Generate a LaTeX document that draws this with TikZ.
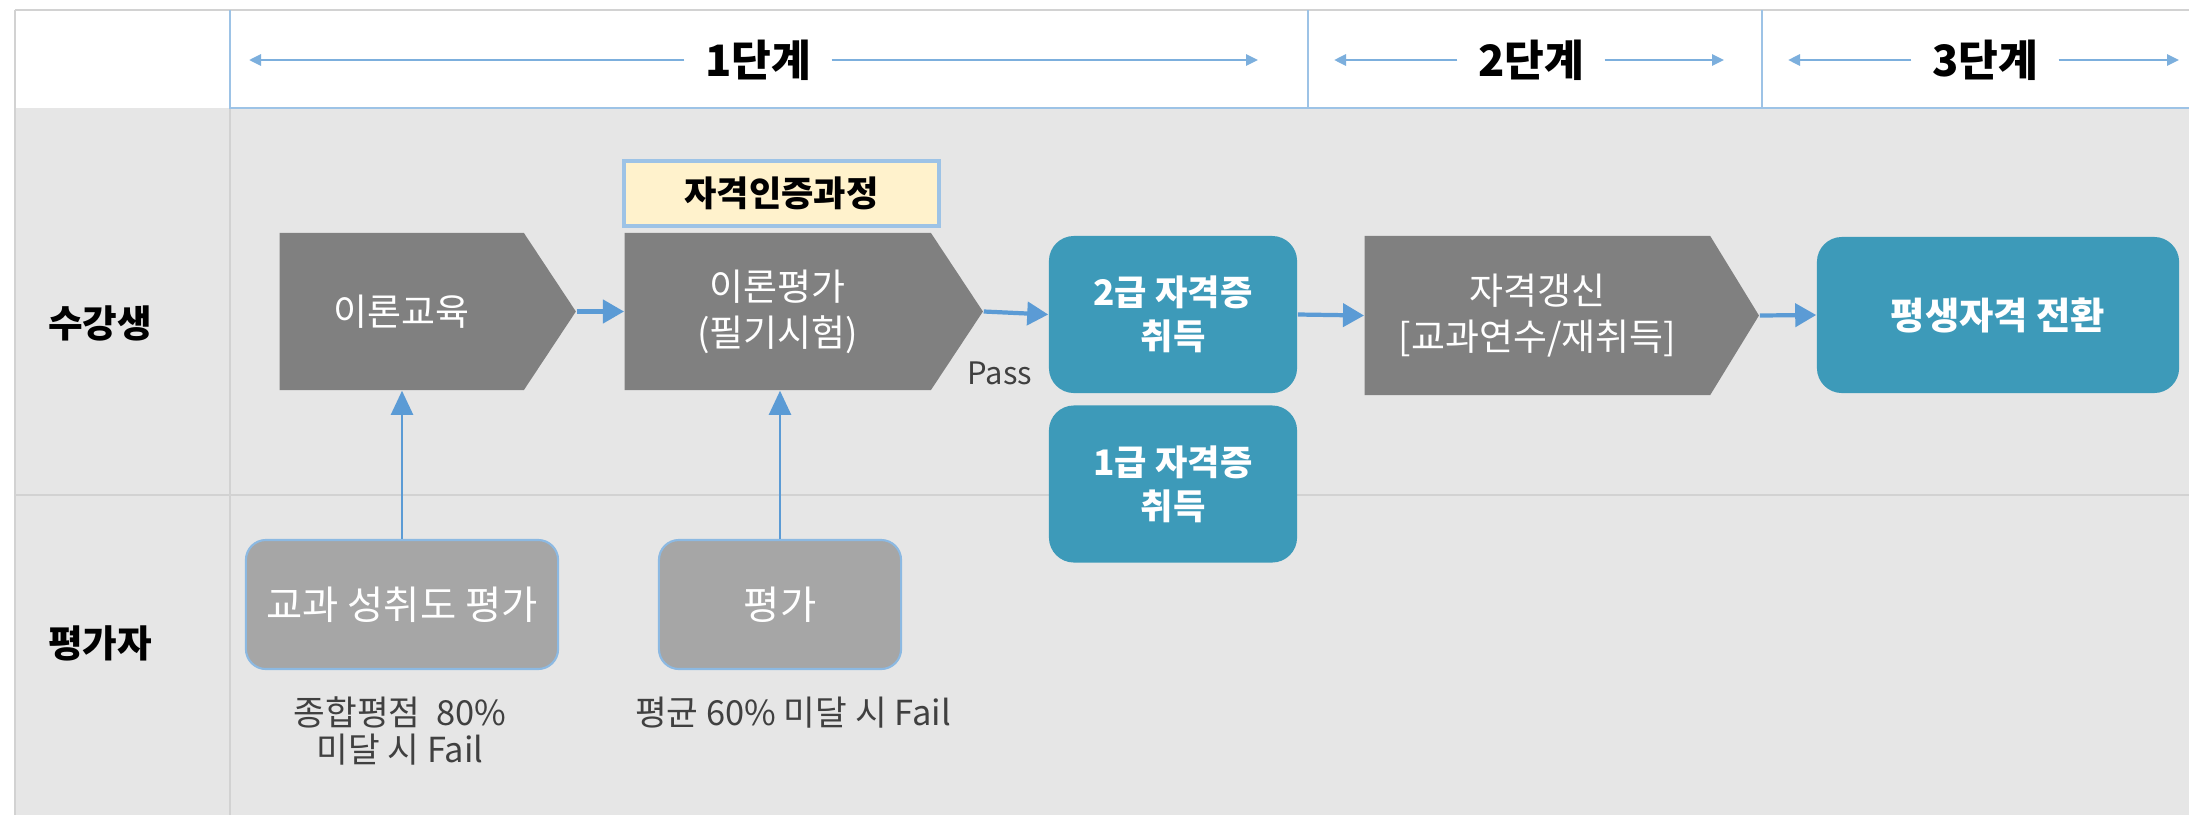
\documentclass[tikz,border=0pt]{standalone}
\usepackage{fontspec}
\setmainfont{Noto Sans CJK KR}
\usetikzlibrary{shapes.symbols,arrows.meta}
\definecolor{bgGrey}{HTML}{E6E6E6}
\definecolor{lineGrey}{HTML}{D2D2D2}
\definecolor{stepGrey}{HTML}{808080}
\definecolor{evalGrey}{HTML}{A6A6A6}
\definecolor{certTeal}{HTML}{3D9AB9}
\definecolor{flowBlue}{HTML}{5B9BD5}
\definecolor{hdrBlue}{HTML}{9DC3E6}
\definecolor{noteYellow}{HTML}{FFF2CC}
\begin{document}
\begin{tikzpicture}[x=0.01cm,y=-0.01cm,
	stepbox/.style={shape=signal,signal to=east,signal pointer angle=113,anchor=west,fill=stepGrey,text=white,inner sep=0pt,minimum height=1.57cm,align=center,font=\fontsize{10.5}{13}\selectfont},
	certbox/.style={rounded corners=0.25cm,fill=certTeal,text=white,minimum width=2.48cm,minimum height=1.57cm,align=center,font=\bfseries\fontsize{10}{12.5}\selectfont},
	evalbox/.style={rounded corners=0.2cm,fill=evalGrey,draw=flowBlue!70,line width=0.6pt,text=white,minimum height=1.29cm,font=\fontsize{11.2}{13}\selectfont},
	note/.style={text=black!75,align=center,font=\fontsize{9.8}{10.6}\selectfont},
	lane/.style={font=\bfseries\fontsize{10.7}{12}\selectfont},
	stage/.style={font=\bfseries\fontsize{12.3}{14}\selectfont,inner sep=0.2cm},
	flow/.style={draw=flowBlue,line width=1.2pt,-{Triangle[length=0.21cm,width=0.23cm]}},
	up/.style={draw=flowBlue,line width=0.6pt,-{Triangle[length=0.24cm,width=0.22cm]}},
	hdr/.style={draw=flowBlue!80,line width=0.8pt,-{Triangle[length=0.12cm,width=0.11cm]}}]
	\useasboundingbox (0,0) rectangle (2189,815);
	% lanes and header
	\fill[white] (0,0) rectangle (2189,815);
	\fill[bgGrey] (15,108) rectangle (2189,815);
	\draw[lineGrey,line width=0.8pt] (15,10)--(2189,10) (15,10)--(15,815) (230,108)--(230,815) (15,495)--(2189,495);
	\draw[hdrBlue,line width=0.8pt] (230,10)--(230,108)--(2189,108) (1308,10)--(1308,108) (1762,10)--(1762,108);
	\foreach \c/\l/\r/\n in {758/249/1258/1,1531/1334/1724/2,1985/1788/2179/3}{
		\node[stage] (stage\n) at (\c,60) {{\n}단계};
		\coordinate (left\n) at (\l,60);
		\coordinate (right\n) at (\r,60);
		\draw[hdr] (stage\n.west)--(left\n);
		\draw[hdr] (stage\n.east)--(right\n);
	}
	\node[lane] (student) at (100,323) {수강생};
	\node[lane] (rater) at (100,643) {평가자};
	% steps
	\node[draw=hdrBlue,line width=1pt,fill=noteYellow,minimum width=3.15cm,minimum height=0.65cm,font=\bfseries\fontsize{10}{11}\selectfont] (course) at (781.5,193.5) {자격인증과정};
	\node[stepbox,minimum width=2.96cm] (edu) at (279,311.5) {이론교육};
	\node[stepbox,minimum width=3.58cm] (exam) at (624,311.5) {이론평가\\(필기시험)};
	\node[certbox] (cert2) at (1173,314.5) {2급 자격증\\취득};
	\node[certbox] (cert1) at (1173,484) {1급 자격증\\취득};
	\node[stepbox,signal pointer angle=117,minimum width=3.94cm,minimum height=1.59cm] (renew) at (1364,315.5) {자격갱신\\{}[교과연수/재취득]};
	\node[certbox,minimum width=3.62cm,minimum height=1.56cm,font=\bfseries\fontsize{10.6}{12.5}\selectfont] (life) at (1998,315) {평생자격 전환};
	\node[font=\fontsize{8.8}{10}\selectfont,text=black!75] (pass) at (1000,373) {Pass};
	% raters
	\node[evalbox,minimum width=3.12cm] (grade) at (402,604.5) {교과 성취도 평가};
	\node[evalbox,minimum width=2.42cm] (test) at (780,604.5) {평가};
	\node[note] (gradenote) at (400,731) {종합평점~~80\%\\미달 시 Fail};
	\node[note] (testnote) at (793,713) {평균 60\% 미달 시 Fail};
	% connectors
	\draw[flow] (edu.east)--(exam.west);
	\draw[flow] (exam.east)--(cert2.west);
	\draw[flow] (cert2.east)--(renew.west);
	\draw[flow] (renew.east)--(life.west);
	\draw[up] (grade.north)--(grade.north |- edu.south);
	\draw[up] (test.north)--(test.north |- exam.south);
\end{tikzpicture}
\end{document}
